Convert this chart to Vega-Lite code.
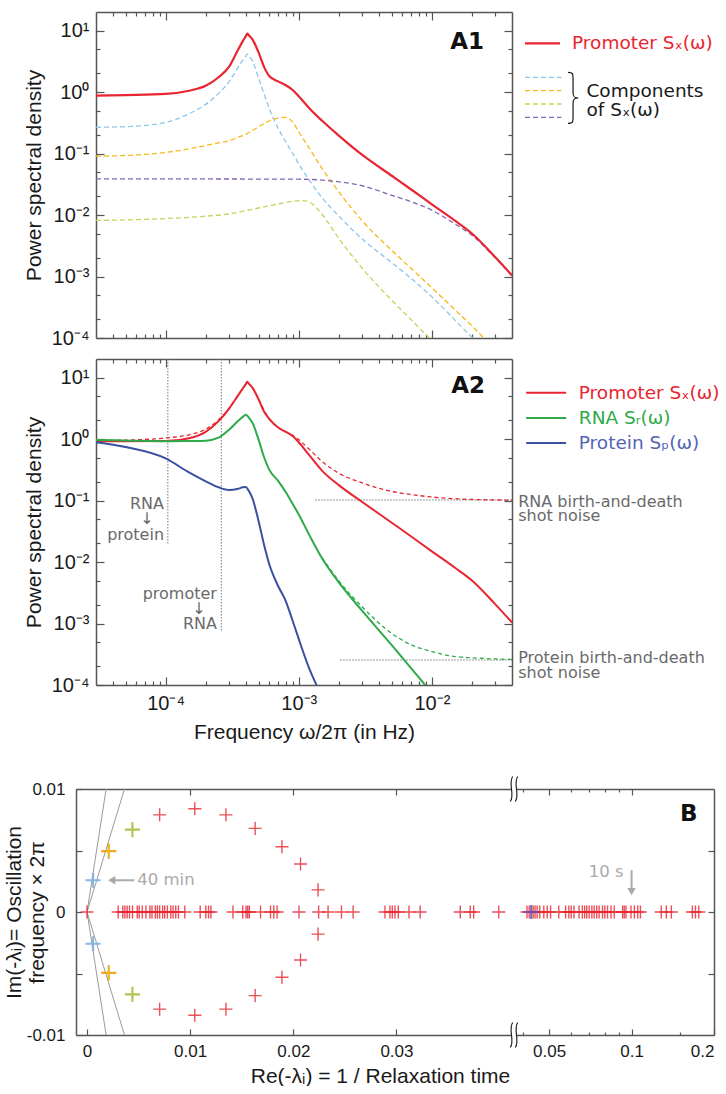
{
"$schema": "https://vega.github.io/schema/vega-lite/v6.json",
"padding": {"left": 3, "top": 11, "right": 0, "bottom": 0},
"config": {
  "view": {"stroke": null},
  "font": "Liberation Sans",
  "axis": {"grid": false, "domainColor": "#555", "tickColor": "#555", "domainWidth": 1.5, "tickWidth": 1.2, "labelFont": "Liberation Sans", "labelFontSize": 20, "labelColor": "#1a1a1a", "titleFont": "Liberation Sans", "titleFontSize": 21, "titleFontWeight": "normal", "titleColor": "#1a1a1a"},
  "text": {"font": "DejaVu Sans"}
},
"datasets": {
  "a1": [
    {"s":"red","f":3e-5,"S":0.871},{"s":"red","f":5e-5,"S":0.891},{"s":"red","f":1e-4,"S":0.93},{"s":"red","f":1.5e-4,"S":1.05},{"s":"red","f":2e-4,"S":1.26},{"s":"red","f":2.5e-4,"S":1.74},{"s":"red","f":3e-4,"S":2.58},{"s":"red","f":3.5e-4,"S":4.86},{"s":"red","f":3.8e-4,"S":6.73},{"s":"red","f":4e-4,"S":8.09},{"s":"red","f":4.1e-4,"S":8.95},{"s":"red","f":4.2e-4,"S":8.43},{"s":"red","f":4.5e-4,"S":7.13},{"s":"red","f":5e-4,"S":4.36},{"s":"red","f":5.5e-4,"S":2.54},{"s":"red","f":6e-4,"S":1.82},{"s":"red","f":7e-4,"S":1.49},{"s":"red","f":8e-4,"S":1.29},{"s":"red","f":9e-4,"S":1.08},{"s":"red","f":1e-3,"S":0.851},{"s":"red","f":1.2e-3,"S":0.546},{"s":"red","f":1.5e-3,"S":0.34},{"s":"red","f":2e-3,"S":0.195},{"s":"red","f":3e-3,"S":0.0946},{"s":"red","f":5e-3,"S":0.0435},{"s":"red","f":7e-3,"S":0.026},{"s":"red","f":1e-2,"S":0.0149},{"s":"red","f":1.5e-2,"S":0.0080},{"s":"red","f":2e-2,"S":0.0050},{"s":"red","f":3e-2,"S":0.00205},{"s":"red","f":4e-2,"S":0.00104},
    {"s":"lblue","f":3e-5,"S":0.267},{"s":"lblue","f":5e-5,"S":0.273},{"s":"lblue","f":1e-4,"S":0.32},{"s":"lblue","f":1.5e-4,"S":0.444},{"s":"lblue","f":2e-4,"S":0.63},{"s":"lblue","f":2.5e-4,"S":0.95},{"s":"lblue","f":3e-4,"S":1.47},{"s":"lblue","f":3.5e-4,"S":2.52},{"s":"lblue","f":3.8e-4,"S":3.29},{"s":"lblue","f":4e-4,"S":3.81},{"s":"lblue","f":4.1e-4,"S":4.14},{"s":"lblue","f":4.2e-4,"S":3.89},{"s":"lblue","f":4.5e-4,"S":3.16},{"s":"lblue","f":5e-4,"S":1.67},{"s":"lblue","f":5.5e-4,"S":0.929},{"s":"lblue","f":6e-4,"S":0.542},{"s":"lblue","f":7e-4,"S":0.258},{"s":"lblue","f":8e-4,"S":0.154},{"s":"lblue","f":9e-4,"S":0.101},{"s":"lblue","f":1e-3,"S":0.0678},{"s":"lblue","f":1.2e-3,"S":0.0368},{"s":"lblue","f":1.5e-3,"S":0.019},{"s":"lblue","f":2e-3,"S":0.00964},{"s":"lblue","f":3e-3,"S":0.00406},{"s":"lblue","f":5e-3,"S":0.00168},{"s":"lblue","f":7e-3,"S":0.000929},{"s":"lblue","f":1e-2,"S":0.000467},{"s":"lblue","f":1.5e-2,"S":0.000193},{"s":"lblue","f":2e-2,"S":0.000103},{"s":"lblue","f":2.2e-2,"S":0.000085},
    {"s":"orange","f":3e-5,"S":0.0904},{"s":"orange","f":5e-5,"S":0.0929},{"s":"orange","f":1e-4,"S":0.104},{"s":"orange","f":1.5e-4,"S":0.119},{"s":"orange","f":2e-4,"S":0.135},{"s":"orange","f":2.5e-4,"S":0.149},{"s":"orange","f":3e-4,"S":0.161},{"s":"orange","f":3.5e-4,"S":0.183},{"s":"orange","f":4e-4,"S":0.205},{"s":"orange","f":4.5e-4,"S":0.237},{"s":"orange","f":5e-4,"S":0.272},{"s":"orange","f":5.5e-4,"S":0.307},{"s":"orange","f":6e-4,"S":0.338},{"s":"orange","f":7e-4,"S":0.375},{"s":"orange","f":7.7e-4,"S":0.388},{"s":"orange","f":8e-4,"S":0.385},{"s":"orange","f":9e-4,"S":0.324},{"s":"orange","f":1e-3,"S":0.225},{"s":"orange","f":1.2e-3,"S":0.122},{"s":"orange","f":1.5e-3,"S":0.0569},{"s":"orange","f":2e-3,"S":0.0238},{"s":"orange","f":3e-3,"S":0.00804},{"s":"orange","f":5e-3,"S":0.00266},{"s":"orange","f":7e-3,"S":0.00135},{"s":"orange","f":1e-2,"S":0.000656},{"s":"orange","f":1.5e-2,"S":0.000284},{"s":"orange","f":2e-2,"S":0.000157},{"s":"orange","f":2.6e-2,"S":0.000088},
    {"s":"yg","f":3e-5,"S":0.00815},{"s":"yg","f":5e-5,"S":0.00832},{"s":"yg","f":1e-4,"S":0.00875},{"s":"yg","f":2e-4,"S":0.00957},{"s":"yg","f":3e-4,"S":0.0104},{"s":"yg","f":4e-4,"S":0.0118},{"s":"yg","f":5e-4,"S":0.013},{"s":"yg","f":6e-4,"S":0.0141},{"s":"yg","f":7e-4,"S":0.0151},{"s":"yg","f":8e-4,"S":0.016},{"s":"yg","f":9e-4,"S":0.0166},{"s":"yg","f":1.05e-3,"S":0.0172},{"s":"yg","f":1.2e-3,"S":0.0162},{"s":"yg","f":1.5e-3,"S":0.0102},{"s":"yg","f":2e-3,"S":0.00417},{"s":"yg","f":3e-3,"S":0.00136},{"s":"yg","f":5e-3,"S":0.000411},{"s":"yg","f":7e-3,"S":0.000197},{"s":"yg","f":1e-2,"S":0.000091},
    {"s":"purple","f":3e-5,"S":0.0387},{"s":"purple","f":1e-4,"S":0.0386},{"s":"purple","f":3e-4,"S":0.0385},{"s":"purple","f":1e-3,"S":0.0382},{"s":"purple","f":1.5e-3,"S":0.037},{"s":"purple","f":2e-3,"S":0.0347},{"s":"purple","f":3e-3,"S":0.0299},{"s":"purple","f":5e-3,"S":0.0209},{"s":"purple","f":7e-3,"S":0.0164},{"s":"purple","f":1e-2,"S":0.012},{"s":"purple","f":1.5e-2,"S":0.0071},{"s":"purple","f":2e-2,"S":0.0047},{"s":"purple","f":3e-2,"S":0.002},{"s":"purple","f":4e-2,"S":0.00104}
  ],
  "a1leg": [
    {"s":"red","f1":0.0501,"f2":0.0918,"S":6.2},
    {"s":"lblue","f1":0.0501,"f2":0.094,"S":1.73},
    {"s":"orange","f1":0.0501,"f2":0.094,"S":1.05},
    {"s":"yg","f1":0.0501,"f2":0.094,"S":0.638},
    {"s":"purple","f1":0.0501,"f2":0.094,"S":0.388}
  ],
  "a1txt": [
    {"t":"Promoter Sₓ(ω)","s":"red","f":0.113,"S":6.2},
    {"t":"Components","s":"txt","f":0.145,"S":1.05},
    {"t":"of Sₓ(ω)","s":"txt","f":0.145,"S":0.51}
  ],
  "a2": [
    {"s":"red","f":3e-5,"S":0.92},{"s":"red","f":5e-5,"S":0.92},{"s":"red","f":1e-4,"S":0.925},{"s":"red","f":1.5e-4,"S":1.03},{"s":"red","f":2e-4,"S":1.31},{"s":"red","f":2.5e-4,"S":1.95},{"s":"red","f":3e-4,"S":3.13},{"s":"red","f":3.5e-4,"S":5.12},{"s":"red","f":3.8e-4,"S":6.65},{"s":"red","f":4e-4,"S":7.8},{"s":"red","f":4.1e-4,"S":8.51},{"s":"red","f":4.2e-4,"S":8.04},{"s":"red","f":4.5e-4,"S":6.78},{"s":"red","f":5e-4,"S":4.39},{"s":"red","f":5.5e-4,"S":2.77},{"s":"red","f":6e-4,"S":2.12},{"s":"red","f":7e-4,"S":1.54},{"s":"red","f":8e-4,"S":1.3},{"s":"red","f":9e-4,"S":1.12},{"s":"red","f":1e-3,"S":0.887},{"s":"red","f":1.2e-3,"S":0.546},{"s":"red","f":1.5e-3,"S":0.304},{"s":"red","f":2e-3,"S":0.178},{"s":"red","f":3e-3,"S":0.0946},{"s":"red","f":5e-3,"S":0.0435},{"s":"red","f":7e-3,"S":0.026},{"s":"red","f":1e-2,"S":0.0149},{"s":"red","f":1.5e-2,"S":0.0080},{"s":"red","f":2e-2,"S":0.0050},{"s":"red","f":3e-2,"S":0.00205},{"s":"red","f":4e-2,"S":0.00104},
    {"s":"green","f":3e-5,"S":0.968},{"s":"green","f":5e-5,"S":0.95},{"s":"green","f":1e-4,"S":0.92},{"s":"green","f":1.5e-4,"S":0.93},{"s":"green","f":2e-4,"S":0.94},{"s":"green","f":2.5e-4,"S":1.05},{"s":"green","f":3e-4,"S":1.42},{"s":"green","f":3.5e-4,"S":1.97},{"s":"green","f":3.8e-4,"S":2.29},{"s":"green","f":4e-4,"S":2.49},{"s":"green","f":4.2e-4,"S":2.25},{"s":"green","f":4.5e-4,"S":1.82},{"s":"green","f":5e-4,"S":0.968},{"s":"green","f":5.5e-4,"S":0.5},{"s":"green","f":6e-4,"S":0.318},{"s":"green","f":7e-4,"S":0.208},{"s":"green","f":8e-4,"S":0.136},{"s":"green","f":9e-4,"S":0.0883},{"s":"green","f":1e-3,"S":0.0593},{"s":"green","f":1.2e-3,"S":0.0276},{"s":"green","f":1.5e-3,"S":0.0114},{"s":"green","f":2e-3,"S":0.00468},{"s":"green","f":3e-3,"S":0.0016},{"s":"green","f":5e-3,"S":0.000444},{"s":"green","f":7e-3,"S":0.000187},{"s":"green","f":1e-2,"S":0.000074},
    {"s":"dblue","f":3e-5,"S":0.887},{"s":"dblue","f":5e-5,"S":0.74},{"s":"dblue","f":1e-4,"S":0.483},{"s":"dblue","f":1.5e-4,"S":0.286},{"s":"dblue","f":2e-4,"S":0.205},{"s":"dblue","f":2.5e-4,"S":0.164},{"s":"dblue","f":3e-4,"S":0.148},{"s":"dblue","f":3.5e-4,"S":0.155},{"s":"dblue","f":3.8e-4,"S":0.164},{"s":"dblue","f":4e-4,"S":0.166},{"s":"dblue","f":4.2e-4,"S":0.145},{"s":"dblue","f":4.5e-4,"S":0.107},{"s":"dblue","f":5e-4,"S":0.0457},{"s":"dblue","f":5.5e-4,"S":0.0187},{"s":"dblue","f":6e-4,"S":0.00927},{"s":"dblue","f":7e-4,"S":0.00407},{"s":"dblue","f":8e-4,"S":0.0023},{"s":"dblue","f":9e-4,"S":0.00111},{"s":"dblue","f":1e-3,"S":0.000561},{"s":"dblue","f":1.2e-3,"S":0.000185},{"s":"dblue","f":1.35e-3,"S":0.000103},{"s":"dblue","f":1.45e-3,"S":0.000072}
  ],
  "a2d": [
    {"s":"red","f":3e-5,"S":0.944},{"s":"red","f":5e-5,"S":0.96},{"s":"red","f":1e-4,"S":1.04},{"s":"red","f":1.5e-4,"S":1.17},{"s":"red","f":2e-4,"S":1.44},{"s":"red","f":2.5e-4,"S":2.06},{"s":"red","f":3e-4,"S":3.18},{"s":"red","f":3.5e-4,"S":5.12},{"s":"red","f":4e-4,"S":7.8},{"s":"red","f":4.1e-4,"S":8.51},{"s":"red","f":4.2e-4,"S":8.04},{"s":"red","f":4.5e-4,"S":6.78},{"s":"red","f":5e-4,"S":4.39},{"s":"red","f":6e-4,"S":2.12},{"s":"red","f":7e-4,"S":1.55},{"s":"red","f":8e-4,"S":1.32},{"s":"red","f":9e-4,"S":1.15},{"s":"red","f":1e-3,"S":0.98},{"s":"red","f":1.2e-3,"S":0.68},{"s":"red","f":1.5e-3,"S":0.43},{"s":"red","f":2e-3,"S":0.278},{"s":"red","f":3e-3,"S":0.193},{"s":"red","f":5e-3,"S":0.14},{"s":"red","f":7e-3,"S":0.125},{"s":"red","f":1e-2,"S":0.114},{"s":"red","f":1.5e-2,"S":0.107},{"s":"red","f":2e-2,"S":0.104},{"s":"red","f":3e-2,"S":0.102},{"s":"red","f":4e-2,"S":0.101},
    {"s":"green","f":1.5e-3,"S":0.0117},{"s":"green","f":2e-3,"S":0.00494},{"s":"green","f":3e-3,"S":0.00186},{"s":"green","f":5e-3,"S":0.00069},{"s":"green","f":7e-3,"S":0.00045},{"s":"green","f":1e-2,"S":0.00035},{"s":"green","f":1.5e-2,"S":0.00029},{"s":"green","f":2e-2,"S":0.000277},{"s":"green","f":3e-2,"S":0.000265},{"s":"green","f":4e-2,"S":0.00026}
  ],
  "a2leg": [
    {"s":"red","f1":0.0511,"f2":0.102,"S":5.66},
    {"s":"green","f1":0.0511,"f2":0.102,"S":2.2},
    {"s":"dblue","f1":0.0511,"f2":0.102,"S":0.861}
  ],
  "a2txt": [
    {"t":"Promoter Sₓ(ω)","s":"red","f":0.127,"S":5.66},
    {"t":"RNA Sᵣ(ω)","s":"green","f":0.127,"S":2.2},
    {"t":"Protein Sₚ(ω)","s":"ptxt","f":0.127,"S":0.861}
  ],
  "a2vr": [
    {"f":1.04e-4,"S1":20,"S2":0.0199},
    {"f":2.62e-4,"S1":20,"S2":0.00073}
  ],
  "a2hr": [
    {"f1":0.00133,"f2":0.04,"S":0.102},
    {"f1":0.00205,"f2":0.04,"S":0.000255}
  ],
  "a2ann": [
    {"t":"RNA","k":"r","f":9.73e-5,"S":0.0887},
    {"t":"protein","k":"r","f":9.73e-5,"S":0.0278},
    {"t":"promoter","k":"r","f":2.43e-4,"S":0.00305},
    {"t":"RNA","k":"r","f":2.43e-4,"S":0.000993},
    {"t":"↓","k":"c","f":7.25e-5,"S":0.0506},
    {"t":"↓","k":"c","f":1.78e-4,"S":0.00174},
    {"t":"RNA birth-and-death","k":"l","f":0.0445,"S":0.0946},
    {"t":"shot noise","k":"l","f":0.0445,"S":0.056},
    {"t":"Protein birth-and-death","k":"l","f":0.0445,"S":0.000275},
    {"t":"shot noise","k":"l","f":0.0445,"S":0.000157}
  ],
  "b": [
    {"re":0.00058,"im":0.00258,"c":"bblue"},{"re":0.00058,"im":-0.00258,"c":"bblue"},
    {"re":0.0021,"im":0.00495,"c":"borange"},{"re":0.0021,"im":-0.00495,"c":"borange"},
    {"re":0.0044,"im":0.0067,"c":"bgreen"},{"re":0.0044,"im":-0.0067,"c":"bgreen"},
    {"re":0.00704,"im":0.0079,"c":"red"},{"re":0.00704,"im":-0.0079,"c":"red"},
    {"re":0.01045,"im":0.0084,"c":"red"},{"re":0.01045,"im":-0.0084,"c":"red"},
    {"re":0.01347,"im":0.0079,"c":"red"},{"re":0.01347,"im":-0.0079,"c":"red"},
    {"re":0.0163,"im":0.0068,"c":"red"},{"re":0.0163,"im":-0.0068,"c":"red"},
    {"re":0.0189,"im":0.0053,"c":"red"},{"re":0.0189,"im":-0.0053,"c":"red"},
    {"re":0.0207,"im":0.0039,"c":"red"},{"re":0.0207,"im":-0.0039,"c":"red"},
    {"re":0.0224,"im":0.0018,"c":"red"},{"re":0.0224,"im":-0.0018,"c":"red"},
    {"re":0,"im":0,"c":"red"},{"re":0.00302,"im":0,"c":"red"},{"re":0.00347,"im":0,"c":"red"},{"re":0.00367,"im":0,"c":"red"},{"re":0.00389,"im":0,"c":"red"},{"re":0.00412,"im":0,"c":"red"},{"re":0.00441,"im":0,"c":"red"},{"re":0.00487,"im":0,"c":"red"},{"re":0.00506,"im":0,"c":"red"},{"re":0.00536,"im":0,"c":"red"},{"re":0.00571,"im":0,"c":"red"},{"re":0.0061,"im":0,"c":"red"},{"re":0.0063,"im":0,"c":"red"},{"re":0.00662,"im":0,"c":"red"},{"re":0.00682,"im":0,"c":"red"},{"re":0.00704,"im":0,"c":"red"},{"re":0.00733,"im":0,"c":"red"},{"re":0.00753,"im":0,"c":"red"},{"re":0.00779,"im":0,"c":"red"},{"re":0.00812,"im":0,"c":"red"},{"re":0.00834,"im":0,"c":"red"},{"re":0.0086,"im":0,"c":"red"},{"re":0.00886,"im":0,"c":"red"},{"re":0.00948,"im":0,"c":"red"},{"re":0.01097,"im":0,"c":"red"},{"re":0.01152,"im":0,"c":"red"},{"re":0.01178,"im":0,"c":"red"},{"re":0.01201,"im":0,"c":"red"},{"re":0.01415,"im":0,"c":"red"},{"re":0.01509,"im":0,"c":"red"},{"re":0.01542,"im":0,"c":"red"},{"re":0.01558,"im":0,"c":"red"},{"re":0.01574,"im":0,"c":"red"},{"re":0.01682,"im":0,"c":"red"},{"re":0.01779,"im":0,"c":"red"},{"re":0.01811,"im":0,"c":"red"},{"re":0.01843,"im":0,"c":"red"},{"re":0.02055,"im":0,"c":"red"},{"re":0.02246,"im":0,"c":"red"},{"re":0.02337,"im":0,"c":"red"},{"re":0.02467,"im":0,"c":"red"},{"re":0.0258,"im":0,"c":"red"},{"re":0.02889,"im":0,"c":"red"},{"re":0.02937,"im":0,"c":"red"},{"re":0.0296,"im":0,"c":"red"},{"re":0.02986,"im":0,"c":"red"},{"re":0.03018,"im":0,"c":"red"},{"re":0.03122,"im":0,"c":"red"},{"re":0.0323,"im":0,"c":"red"},{"re":0.03619,"im":0,"c":"red"},{"re":0.03716,"im":0,"c":"red"},{"re":0.03749,"im":0,"c":"red"},{"re":0.03992,"im":0,"c":"red"},
    {"re":0.0415,"im":0,"c":"red"},{"re":0.0423,"im":0,"c":"red"},{"re":0.0437,"im":0,"c":"red"},{"re":0.0444,"im":0,"c":"red"},{"re":0.0452,"im":0,"c":"red"},{"re":0.0462,"im":0,"c":"red"},{"re":0.0478,"im":0,"c":"red"},{"re":0.0492,"im":0,"c":"red"},{"re":0.0506,"im":0,"c":"red"},{"re":0.0542,"im":0,"c":"red"},{"re":0.0574,"im":0,"c":"red"},{"re":0.059,"im":0,"c":"red"},{"re":0.0602,"im":0,"c":"red"},{"re":0.0616,"im":0,"c":"red"},{"re":0.0643,"im":0,"c":"red"},{"re":0.0661,"im":0,"c":"red"},{"re":0.0674,"im":0,"c":"red"},{"re":0.0686,"im":0,"c":"red"},{"re":0.07,"im":0,"c":"red"},{"re":0.0716,"im":0,"c":"red"},{"re":0.073,"im":0,"c":"red"},{"re":0.0746,"im":0,"c":"red"},{"re":0.0761,"im":0,"c":"red"},{"re":0.0783,"im":0,"c":"red"},{"re":0.0798,"im":0,"c":"red"},{"re":0.0817,"im":0,"c":"red"},{"re":0.0841,"im":0,"c":"red"},{"re":0.0865,"im":0,"c":"red"},{"re":0.0927,"im":0,"c":"red"},{"re":0.094,"im":0,"c":"red"},{"re":0.0954,"im":0,"c":"red"},{"re":0.0995,"im":0,"c":"red"},{"re":0.1024,"im":0,"c":"red"},{"re":0.1053,"im":0,"c":"red"},{"re":0.1077,"im":0,"c":"red"},{"re":0.1283,"im":0,"c":"red"},{"re":0.1339,"im":0,"c":"red"},{"re":0.1397,"im":0,"c":"red"},{"re":0.1668,"im":0,"c":"red"},{"re":0.1711,"im":0,"c":"red"},{"re":0.176,"im":0,"c":"red"},
    {"re":0.043,"im":0,"c":"bpurple"}
  ],
  "blines": [
    {"g":1,"re":0,"im":0},{"g":1,"re":0.00185,"im":0.01},
    {"g":2,"re":0,"im":0},{"g":2,"re":0.00185,"im":-0.01},
    {"g":3,"re":0,"im":0},{"g":3,"re":0.00363,"im":0.01},
    {"g":4,"re":0,"im":0},{"g":4,"re":0.00363,"im":-0.01}
  ]
},
"vconcat": [
 {"vconcat": [
  {
   "width": 436, "height": 326,
   "resolve": {"axis": {"x": "independent", "y": "independent"}},
   "layer": [
    {"data": {"values": [{"f": 0.001, "S": 1}]}, "mark": {"type": "point", "opacity": 0},
     "encoding": {
      "x": {"field": "f", "type": "quantitative", "scale": {"type":"log","domain":[0.00003,0.04],"range":[20,436],"nice":false}, "axis": {"orient": "bottom", "values": [0.0001,0.001,0.01], "labels": false, "tickSize": -8, "title": null}},
      "y": {"field": "S", "type": "quantitative", "scale": {"type":"log","domain":[0.0001,20],"nice":false}, "axis": {"orient": "left", "offset": -20, "values": [0.0001,0.001,0.01,0.1,1,10], "tickSize": -8, "labelPadding": 15, "labelExpr": "'10' + (datum.value < 0.5 ? '⁻' : '') + ['⁰','¹','²','³','⁴','⁵'][round(abs(log(datum.value)/LN10))]", "title": "Power spectral density", "titlePadding": 7}}
     }},
    {"data": {"values": [{"f": 0.001, "S": 1}]}, "mark": {"type": "point", "opacity": 0},
     "encoding": {
      "x": {"field": "f", "type": "quantitative", "scale": {"type":"log","domain":[0.00003,0.04],"range":[20,436],"nice":false}, "axis": {"orient": "bottom", "values": [4e-5,5e-5,6e-5,7e-5,8e-5,9e-5,2e-4,3e-4,4e-4,5e-4,6e-4,7e-4,8e-4,9e-4,2e-3,3e-3,4e-3,5e-3,6e-3,7e-3,8e-3,9e-3,2e-2,3e-2], "labels": false, "domain": false, "tickSize": -4, "title": null}},
      "y": {"field": "S", "type": "quantitative", "scale": {"type":"log","domain":[0.0001,20],"nice":false}, "axis": {"orient": "left", "offset": -20, "values": [2e-4,5e-4,2e-3,5e-3,2e-2,5e-2,0.2,0.5,2,5], "labels": false, "domain": false, "tickSize": -4, "title": null}}
     }},
    {"data": {"values": [{"f": 0.001, "S": 1}]}, "mark": {"type": "point", "opacity": 0},
     "encoding": {
      "x": {"field": "f", "type": "quantitative", "scale": {"type":"log","domain":[0.00003,0.04],"range":[20,436],"nice":false}, "axis": {"orient": "top", "values": [0.0001,0.001,0.01], "labels": false, "tickSize": -8, "title": null}},
      "y": {"field": "S", "type": "quantitative", "scale": {"type":"log","domain":[0.0001,20],"nice":false}, "axis": {"orient": "right", "values": [0.0001,0.001,0.01,0.1,1,10], "labels": false, "tickSize": -8, "title": null}}
     }},
    {"data": {"values": [{"f": 0.001, "S": 1}]}, "mark": {"type": "point", "opacity": 0},
     "encoding": {
      "x": {"field": "f", "type": "quantitative", "scale": {"type":"log","domain":[0.00003,0.04],"range":[20,436],"nice":false}, "axis": {"orient": "top", "values": [4e-5,5e-5,6e-5,7e-5,8e-5,9e-5,2e-4,3e-4,4e-4,5e-4,6e-4,7e-4,8e-4,9e-4,2e-3,3e-3,4e-3,5e-3,6e-3,7e-3,8e-3,9e-3,2e-2,3e-2], "labels": false, "domain": false, "tickSize": -4, "title": null}},
      "y": {"field": "S", "type": "quantitative", "scale": {"type":"log","domain":[0.0001,20],"nice":false}, "axis": {"orient": "right", "values": [2e-4,5e-4,2e-3,5e-3,2e-2,5e-2,0.2,0.5,2,5], "labels": false, "domain": false, "tickSize": -4, "title": null}}
     }},
    {"data": {"name": "a1"}, "transform": [{"filter": "datum.s != 'red'"}],
     "mark": {"type": "line", "strokeDash": [5,3], "strokeWidth": 1.3, "clip": true, "interpolate": "monotone"},
     "encoding": {
      "x": {"field": "f", "type": "quantitative", "scale": {"type":"log","domain":[0.00003,0.04],"range":[20,436],"nice":false}, "axis": null},
      "y": {"field": "S", "type": "quantitative", "scale": {"type":"log","domain":[0.0001,20],"nice":false}, "axis": null},
      "color": {"field": "s", "type": "nominal", "legend": null, "scale": {"domain": ["red","lblue","orange","yg","purple","txt","green","dblue","ptxt","bblue","borange","bgreen","bpurple"], "range": ["#e82530","#8ec5ea","#f8b718","#c5d35a","#8466b0","#1a1a1a","#2eaa48","#3a50a0","#5563b5","#7fb0e0","#f0a400","#a8c040","#6f4fb0"]}}
     }},
    {"data": {"name": "a1"}, "transform": [{"filter": "datum.s == 'red'"}],
     "mark": {"type": "line", "strokeWidth": 2.2, "clip": true, "interpolate": "monotone"},
     "encoding": {
      "x": {"field": "f", "type": "quantitative", "scale": {"type":"log","domain":[0.00003,0.04],"range":[20,436],"nice":false}, "axis": null},
      "y": {"field": "S", "type": "quantitative", "scale": {"type":"log","domain":[0.0001,20],"nice":false}, "axis": null},
      "color": {"field": "s", "type": "nominal", "legend": null, "scale": {"domain": ["red","lblue","orange","yg","purple","txt","green","dblue","ptxt","bblue","borange","bgreen","bpurple"], "range": ["#e82530","#8ec5ea","#f8b718","#c5d35a","#8466b0","#1a1a1a","#2eaa48","#3a50a0","#5563b5","#7fb0e0","#f0a400","#a8c040","#6f4fb0"]}}
     }},
    {"data": {"name": "a1leg"}, "transform": [{"filter": "datum.s != 'red'"}],
     "mark": {"type": "rule", "strokeDash": [5,3], "strokeWidth": 1.3},
     "encoding": {
      "x": {"field": "f1", "type": "quantitative", "scale": {"type":"log","domain":[0.00003,0.04],"range":[20,436],"nice":false}, "axis": null},
      "x2": {"field": "f2"},
      "y": {"field": "S", "type": "quantitative", "scale": {"type":"log","domain":[0.0001,20],"nice":false}, "axis": null},
      "color": {"field": "s", "type": "nominal", "legend": null, "scale": {"domain": ["red","lblue","orange","yg","purple","txt","green","dblue","ptxt","bblue","borange","bgreen","bpurple"], "range": ["#e82530","#8ec5ea","#f8b718","#c5d35a","#8466b0","#1a1a1a","#2eaa48","#3a50a0","#5563b5","#7fb0e0","#f0a400","#a8c040","#6f4fb0"]}}
     }},
    {"data": {"name": "a1leg"}, "transform": [{"filter": "datum.s == 'red'"}],
     "mark": {"type": "rule", "strokeWidth": 2.2},
     "encoding": {
      "x": {"field": "f1", "type": "quantitative", "scale": {"type":"log","domain":[0.00003,0.04],"range":[20,436],"nice":false}, "axis": null},
      "x2": {"field": "f2"},
      "y": {"field": "S", "type": "quantitative", "scale": {"type":"log","domain":[0.0001,20],"nice":false}, "axis": null},
      "color": {"field": "s", "type": "nominal", "legend": null, "scale": {"domain": ["red","lblue","orange","yg","purple","txt","green","dblue","ptxt","bblue","borange","bgreen","bpurple"], "range": ["#e82530","#8ec5ea","#f8b718","#c5d35a","#8466b0","#1a1a1a","#2eaa48","#3a50a0","#5563b5","#7fb0e0","#f0a400","#a8c040","#6f4fb0"]}}
     }},
    {"data": {"name": "a1txt"},
     "mark": {"type": "text", "align": "left", "baseline": "middle", "fontSize": 18.5},
     "encoding": {
      "x": {"field": "f", "type": "quantitative", "scale": {"type":"log","domain":[0.00003,0.04],"range":[20,436],"nice":false}, "axis": null},
      "y": {"field": "S", "type": "quantitative", "scale": {"type":"log","domain":[0.0001,20],"nice":false}, "axis": null},
      "text": {"field": "t"},
      "color": {"field": "s", "type": "nominal", "legend": null, "scale": {"domain": ["red","lblue","orange","yg","purple","txt","green","dblue","ptxt","bblue","borange","bgreen","bpurple"], "range": ["#e82530","#8ec5ea","#f8b718","#c5d35a","#8466b0","#1a1a1a","#2eaa48","#3a50a0","#5563b5","#7fb0e0","#f0a400","#a8c040","#6f4fb0"]}}
     }},
    {"data": {"values": [{"f": 0.115, "S": 0.8}]},
     "mark": {"type": "point", "shape": "M-0.2,-1C0,-1,0,-0.95,0,-0.7V-0.2C0,-0.05,0.05,0,0.2,0C0.05,0,0,0.05,0,0.2V0.7C0,0.95,0,1,-0.2,1", "filled": false, "size": 2600, "stroke": "#1a1a1a", "strokeWidth": 1.2, "opacity": 1},
     "encoding": {
      "x": {"field": "f", "type": "quantitative", "scale": {"type":"log","domain":[0.00003,0.04],"range":[20,436],"nice":false}, "axis": null},
      "y": {"field": "S", "type": "quantitative", "scale": {"type":"log","domain":[0.0001,20],"nice":false}, "axis": null}
     }},
    {"data": {"values": [{"t": "A1", "f": 0.0247, "S": 6.5}]},
     "mark": {"type": "text", "align": "right", "baseline": "middle", "fontSize": 23, "fontWeight": "bold", "color": "#111"},
     "encoding": {
      "x": {"field": "f", "type": "quantitative", "scale": {"type":"log","domain":[0.00003,0.04],"range":[20,436],"nice":false}, "axis": null},
      "y": {"field": "S", "type": "quantitative", "scale": {"type":"log","domain":[0.0001,20],"nice":false}, "axis": null},
      "text": {"field": "t"}
     }}
   ]
  },
  {
   "width": 436, "height": 326,
   "resolve": {"axis": {"x": "independent", "y": "independent"}},
   "layer": [
    {"data": {"values": [{"f": 0.001, "S": 1}]}, "mark": {"type": "point", "opacity": 0},
     "encoding": {
      "x": {"field": "f", "type": "quantitative", "scale": {"type":"log","domain":[0.00003,0.04],"range":[20,436],"nice":false}, "axis": {"orient": "bottom", "values": [0.0001,0.001,0.01], "tickSize": -8, "labelPadding": 16, "labelExpr": "'10' + (datum.value < 0.5 ? '⁻' : '') + ['⁰','¹','²','³','⁴','⁵'][round(abs(log(datum.value)/LN10))]", "title": "Frequency ω/2π (in Hz)", "titlePadding": 8}},
      "y": {"field": "S", "type": "quantitative", "scale": {"type":"log","domain":[0.0001,20],"nice":false}, "axis": {"orient": "left", "offset": -20, "values": [0.0001,0.001,0.01,0.1,1,10], "tickSize": -8, "labelPadding": 15, "labelExpr": "'10' + (datum.value < 0.5 ? '⁻' : '') + ['⁰','¹','²','³','⁴','⁵'][round(abs(log(datum.value)/LN10))]", "title": "Power spectral density", "titlePadding": 7}}
     }},
    {"data": {"values": [{"f": 0.001, "S": 1}]}, "mark": {"type": "point", "opacity": 0},
     "encoding": {
      "x": {"field": "f", "type": "quantitative", "scale": {"type":"log","domain":[0.00003,0.04],"range":[20,436],"nice":false}, "axis": {"orient": "bottom", "values": [4e-5,5e-5,6e-5,7e-5,8e-5,9e-5,2e-4,3e-4,4e-4,5e-4,6e-4,7e-4,8e-4,9e-4,2e-3,3e-3,4e-3,5e-3,6e-3,7e-3,8e-3,9e-3,2e-2,3e-2], "labels": false, "domain": false, "tickSize": -4, "title": null}},
      "y": {"field": "S", "type": "quantitative", "scale": {"type":"log","domain":[0.0001,20],"nice":false}, "axis": {"orient": "left", "offset": -20, "values": [2e-4,5e-4,2e-3,5e-3,2e-2,5e-2,0.2,0.5,2,5], "labels": false, "domain": false, "tickSize": -4, "title": null}}
     }},
    {"data": {"values": [{"f": 0.001, "S": 1}]}, "mark": {"type": "point", "opacity": 0},
     "encoding": {
      "x": {"field": "f", "type": "quantitative", "scale": {"type":"log","domain":[0.00003,0.04],"range":[20,436],"nice":false}, "axis": {"orient": "top", "values": [0.0001,0.001,0.01], "labels": false, "tickSize": -8, "title": null}},
      "y": {"field": "S", "type": "quantitative", "scale": {"type":"log","domain":[0.0001,20],"nice":false}, "axis": {"orient": "right", "values": [0.0001,0.001,0.01,0.1,1,10], "labels": false, "tickSize": -8, "title": null}}
     }},
    {"data": {"values": [{"f": 0.001, "S": 1}]}, "mark": {"type": "point", "opacity": 0},
     "encoding": {
      "x": {"field": "f", "type": "quantitative", "scale": {"type":"log","domain":[0.00003,0.04],"range":[20,436],"nice":false}, "axis": {"orient": "top", "values": [4e-5,5e-5,6e-5,7e-5,8e-5,9e-5,2e-4,3e-4,4e-4,5e-4,6e-4,7e-4,8e-4,9e-4,2e-3,3e-3,4e-3,5e-3,6e-3,7e-3,8e-3,9e-3,2e-2,3e-2], "labels": false, "domain": false, "tickSize": -4, "title": null}},
      "y": {"field": "S", "type": "quantitative", "scale": {"type":"log","domain":[0.0001,20],"nice":false}, "axis": {"orient": "right", "values": [2e-4,5e-4,2e-3,5e-3,2e-2,5e-2,0.2,0.5,2,5], "labels": false, "domain": false, "tickSize": -4, "title": null}}
     }},
    {"data": {"name": "a2vr"},
     "mark": {"type": "rule", "strokeDash": [1.5,1.5], "strokeWidth": 1, "color": "#777"},
     "encoding": {
      "x": {"field": "f", "type": "quantitative", "scale": {"type":"log","domain":[0.00003,0.04],"range":[20,436],"nice":false}, "axis": null},
      "y": {"field": "S1", "type": "quantitative", "scale": {"type":"log","domain":[0.0001,20],"nice":false}, "axis": null},
      "y2": {"field": "S2"}
     }},
    {"data": {"name": "a2hr"},
     "mark": {"type": "rule", "strokeDash": [1.5,1.5], "strokeWidth": 1, "color": "#777"},
     "encoding": {
      "x": {"field": "f1", "type": "quantitative", "scale": {"type":"log","domain":[0.00003,0.04],"range":[20,436],"nice":false}, "axis": null},
      "x2": {"field": "f2"},
      "y": {"field": "S", "type": "quantitative", "scale": {"type":"log","domain":[0.0001,20],"nice":false}, "axis": null}
     }},
    {"data": {"name": "a2d"},
     "mark": {"type": "line", "strokeDash": [4,3], "strokeWidth": 1.3, "clip": true, "interpolate": "monotone"},
     "encoding": {
      "x": {"field": "f", "type": "quantitative", "scale": {"type":"log","domain":[0.00003,0.04],"range":[20,436],"nice":false}, "axis": null},
      "y": {"field": "S", "type": "quantitative", "scale": {"type":"log","domain":[0.0001,20],"nice":false}, "axis": null},
      "color": {"field": "s", "type": "nominal", "legend": null, "scale": {"domain": ["red","lblue","orange","yg","purple","txt","green","dblue","ptxt","bblue","borange","bgreen","bpurple"], "range": ["#e82530","#8ec5ea","#f8b718","#c5d35a","#8466b0","#1a1a1a","#2eaa48","#3a50a0","#5563b5","#7fb0e0","#f0a400","#a8c040","#6f4fb0"]}}
     }},
    {"data": {"name": "a2"},
     "mark": {"type": "line", "strokeWidth": 2, "clip": true, "interpolate": "monotone"},
     "encoding": {
      "x": {"field": "f", "type": "quantitative", "scale": {"type":"log","domain":[0.00003,0.04],"range":[20,436],"nice":false}, "axis": null},
      "y": {"field": "S", "type": "quantitative", "scale": {"type":"log","domain":[0.0001,20],"nice":false}, "axis": null},
      "color": {"field": "s", "type": "nominal", "legend": null, "scale": {"domain": ["red","lblue","orange","yg","purple","txt","green","dblue","ptxt","bblue","borange","bgreen","bpurple"], "range": ["#e82530","#8ec5ea","#f8b718","#c5d35a","#8466b0","#1a1a1a","#2eaa48","#3a50a0","#5563b5","#7fb0e0","#f0a400","#a8c040","#6f4fb0"]}}
     }},
    {"data": {"name": "a2leg"},
     "mark": {"type": "rule", "strokeWidth": 2},
     "encoding": {
      "x": {"field": "f1", "type": "quantitative", "scale": {"type":"log","domain":[0.00003,0.04],"range":[20,436],"nice":false}, "axis": null},
      "x2": {"field": "f2"},
      "y": {"field": "S", "type": "quantitative", "scale": {"type":"log","domain":[0.0001,20],"nice":false}, "axis": null},
      "color": {"field": "s", "type": "nominal", "legend": null, "scale": {"domain": ["red","lblue","orange","yg","purple","txt","green","dblue","ptxt","bblue","borange","bgreen","bpurple"], "range": ["#e82530","#8ec5ea","#f8b718","#c5d35a","#8466b0","#1a1a1a","#2eaa48","#3a50a0","#5563b5","#7fb0e0","#f0a400","#a8c040","#6f4fb0"]}}
     }},
    {"data": {"name": "a2txt"},
     "mark": {"type": "text", "align": "left", "baseline": "middle", "fontSize": 18.5},
     "encoding": {
      "x": {"field": "f", "type": "quantitative", "scale": {"type":"log","domain":[0.00003,0.04],"range":[20,436],"nice":false}, "axis": null},
      "y": {"field": "S", "type": "quantitative", "scale": {"type":"log","domain":[0.0001,20],"nice":false}, "axis": null},
      "text": {"field": "t"},
      "color": {"field": "s", "type": "nominal", "legend": null, "scale": {"domain": ["red","lblue","orange","yg","purple","txt","green","dblue","ptxt","bblue","borange","bgreen","bpurple"], "range": ["#e82530","#8ec5ea","#f8b718","#c5d35a","#8466b0","#1a1a1a","#2eaa48","#3a50a0","#5563b5","#7fb0e0","#f0a400","#a8c040","#6f4fb0"]}}
     }},
    {"data": {"name": "a2ann"}, "transform": [{"filter": "datum.k == 'r'"}],
     "mark": {"type": "text", "align": "right", "baseline": "middle", "fontSize": 16, "color": "#6a6a6a"},
     "encoding": {
      "x": {"field": "f", "type": "quantitative", "scale": {"type":"log","domain":[0.00003,0.04],"range":[20,436],"nice":false}, "axis": null},
      "y": {"field": "S", "type": "quantitative", "scale": {"type":"log","domain":[0.0001,20],"nice":false}, "axis": null},
      "text": {"field": "t"}
     }},
    {"data": {"name": "a2ann"}, "transform": [{"filter": "datum.k == 'c'"}],
     "mark": {"type": "text", "align": "center", "baseline": "middle", "fontSize": 16, "color": "#6a6a6a"},
     "encoding": {
      "x": {"field": "f", "type": "quantitative", "scale": {"type":"log","domain":[0.00003,0.04],"range":[20,436],"nice":false}, "axis": null},
      "y": {"field": "S", "type": "quantitative", "scale": {"type":"log","domain":[0.0001,20],"nice":false}, "axis": null},
      "text": {"field": "t"}
     }},
    {"data": {"name": "a2ann"}, "transform": [{"filter": "datum.k == 'l'"}],
     "mark": {"type": "text", "align": "left", "baseline": "middle", "fontSize": 16, "color": "#6a6a6a"},
     "encoding": {
      "x": {"field": "f", "type": "quantitative", "scale": {"type":"log","domain":[0.00003,0.04],"range":[20,436],"nice":false}, "axis": null},
      "y": {"field": "S", "type": "quantitative", "scale": {"type":"log","domain":[0.0001,20],"nice":false}, "axis": null},
      "text": {"field": "t"}
     }},
    {"data": {"values": [{"t": "A2", "f": 0.0251, "S": 7.28}]},
     "mark": {"type": "text", "align": "right", "baseline": "middle", "fontSize": 23, "fontWeight": "bold", "color": "#111"},
     "encoding": {
      "x": {"field": "f", "type": "quantitative", "scale": {"type":"log","domain":[0.00003,0.04],"range":[20,436],"nice":false}, "axis": null},
      "y": {"field": "S", "type": "quantitative", "scale": {"type":"log","domain":[0.0001,20],"nice":false}, "axis": null},
      "text": {"field": "t"}
     }}
   ]
  }
 ], "spacing": 10},
 {"hconcat": [
  {
   "width": 438, "height": 246,
   "resolve": {"axis": {"x": "independent", "y": "independent"}},
   "layer": [
    {"data": {"values": [{"re": 0.01, "im": 0}]}, "mark": {"type": "point", "opacity": 0},
     "encoding": {
      "x": {"field": "re", "type": "quantitative", "scale": {"type":"linear","domain":[-0.00107,0.0414],"nice":false,"zero":false}, "axis": {"orient": "bottom", "values": [0,0.01,0.02,0.03], "tickSize": -6, "labelPadding": 14, "labelFontSize": 17, "labelExpr": "datum.value == 0 ? '0' : format(datum.value, '.2f')", "title": "Re(-λᵢ) = 1 / Relaxation time", "titleX": 304, "titlePadding": 6}},
      "y": {"field": "im", "type": "quantitative", "scale": {"type":"linear","domain":[-0.01,0.01],"nice":false}, "axis": {"orient": "left", "values": [-0.01,-0.005,0,0.005,0.01], "tickSize": -6, "labelPadding": 17, "labelFontSize": 17, "labelExpr": "datum.value == 0 ? '0' : (datum.value > 0.009 ? '0.01' : (datum.value < -0.009 ? '-0.01' : ''))", "title": ["Im(-λᵢ)= Oscillation", "frequency × 2π"], "titleLineHeight": 23, "titlePadding": -21}}
     }},
    {"data": {"values": [{"re": 0.01, "im": 0}]}, "mark": {"type": "point", "opacity": 0},
     "encoding": {
      "x": {"field": "re", "type": "quantitative", "scale": {"type":"linear","domain":[-0.00107,0.0414],"nice":false,"zero":false}, "axis": {"orient": "top", "values": [0.01,0.02,0.03], "labels": false, "tickSize": -6, "title": null}},
      "y": {"field": "im", "type": "quantitative", "scale": {"type":"linear","domain":[-0.01,0.01],"nice":false}, "axis": null}
     }},
    {"data": {"name": "blines"},
     "mark": {"type": "line", "color": "#9a9a9a", "strokeWidth": 1},
     "encoding": {
      "x": {"field": "re", "type": "quantitative", "scale": {"type":"linear","domain":[-0.00107,0.0414],"nice":false,"zero":false}, "axis": null},
      "y": {"field": "im", "type": "quantitative", "scale": {"type":"linear","domain":[-0.01,0.01],"nice":false}, "axis": null},
      "detail": {"field": "g"}
     }},
    {"data": {"name": "b"}, "transform": [{"filter": "datum.re < 0.041 && datum.c == 'red'"}],
     "mark": {"type": "point", "shape": "M-1,0H1M0,-1V1", "filled": false, "size": 170, "strokeWidth": 1.4, "opacity": 0.8},
     "encoding": {
      "x": {"field": "re", "type": "quantitative", "scale": {"type":"linear","domain":[-0.00107,0.0414],"nice":false,"zero":false}, "axis": null},
      "y": {"field": "im", "type": "quantitative", "scale": {"type":"linear","domain":[-0.01,0.01],"nice":false}, "axis": null},
      "color": {"field": "c", "type": "nominal", "legend": null, "scale": {"domain": ["red","lblue","orange","yg","purple","txt","green","dblue","ptxt","bblue","borange","bgreen","bpurple"], "range": ["#e82530","#8ec5ea","#f8b718","#c5d35a","#8466b0","#1a1a1a","#2eaa48","#3a50a0","#5563b5","#7fb0e0","#f0a400","#a8c040","#6f4fb0"]}}
     }},
    {"data": {"name": "b"}, "transform": [{"filter": "datum.re < 0.041 && datum.c != 'red'"}],
     "mark": {"type": "point", "shape": "M-1,0H1M0,-1V1", "filled": false, "size": 230, "strokeWidth": 2.2, "opacity": 0.9},
     "encoding": {
      "x": {"field": "re", "type": "quantitative", "scale": {"type":"linear","domain":[-0.00107,0.0414],"nice":false,"zero":false}, "axis": null},
      "y": {"field": "im", "type": "quantitative", "scale": {"type":"linear","domain":[-0.01,0.01],"nice":false}, "axis": null},
      "color": {"field": "c", "type": "nominal", "legend": null, "scale": {"domain": ["red","lblue","orange","yg","purple","txt","green","dblue","ptxt","bblue","borange","bgreen","bpurple"], "range": ["#e82530","#8ec5ea","#f8b718","#c5d35a","#8466b0","#1a1a1a","#2eaa48","#3a50a0","#5563b5","#7fb0e0","#f0a400","#a8c040","#6f4fb0"]}}
     }},
    {"data": {"values": [{"x1": 0.00458, "x2": 0.0027, "im": 0.00258}]},
     "mark": {"type": "rule", "color": "#aaaaaa", "strokeWidth": 2},
     "encoding": {
      "x": {"field": "x1", "type": "quantitative", "scale": {"type":"linear","domain":[-0.00107,0.0414],"nice":false,"zero":false}, "axis": null},
      "x2": {"field": "x2"},
      "y": {"field": "im", "type": "quantitative", "scale": {"type":"linear","domain":[-0.01,0.01],"nice":false}, "axis": null}
     }},
    {"data": {"values": [{"re": 0.00239, "im": 0.00258}]},
     "mark": {"type": "point", "shape": "triangle-left", "filled": true, "size": 70, "color": "#aaaaaa", "opacity": 1},
     "encoding": {
      "x": {"field": "re", "type": "quantitative", "scale": {"type":"linear","domain":[-0.00107,0.0414],"nice":false,"zero":false}, "axis": null},
      "y": {"field": "im", "type": "quantitative", "scale": {"type":"linear","domain":[-0.01,0.01],"nice":false}, "axis": null}
     }},
    {"data": {"values": [{"t": "40 min", "re": 0.00487, "im": 0.00258}]},
     "mark": {"type": "text", "align": "left", "baseline": "middle", "fontSize": 16.5, "color": "#aaaaaa"},
     "encoding": {
      "x": {"field": "re", "type": "quantitative", "scale": {"type":"linear","domain":[-0.00107,0.0414],"nice":false,"zero":false}, "axis": null},
      "y": {"field": "im", "type": "quantitative", "scale": {"type":"linear","domain":[-0.01,0.01],"nice":false}, "axis": null},
      "text": {"field": "t"}
     }}
   ]
  },
  {
   "width": 200, "height": 246,
   "resolve": {"axis": {"x": "independent", "y": "independent"}},
   "layer": [
    {"data": {"values": [{"re": 0.1, "im": 0}]}, "mark": {"type": "point", "opacity": 0},
     "encoding": {
      "x": {"field": "re", "type": "quantitative", "scale": {"type":"log","domain":[0.0372,0.2],"nice":false}, "axis": {"orient": "bottom", "values": [0.05,0.1,0.2], "tickSize": -6, "labelPadding": 14, "labelFontSize": 17, "labelExpr": "format(datum.value, '~g')", "title": null}},
      "y": {"field": "im", "type": "quantitative", "scale": {"type":"linear","domain":[-0.01,0.01],"nice":false}, "axis": {"orient": "right", "values": [-0.005,0,0.005], "labels": false, "tickSize": -6, "title": null}}
     }},
    {"data": {"values": [{"re": 0.1, "im": 0}]}, "mark": {"type": "point", "opacity": 0},
     "encoding": {
      "x": {"field": "re", "type": "quantitative", "scale": {"type":"log","domain":[0.0372,0.2],"nice":false}, "axis": {"orient": "bottom", "values": [0.04,0.06,0.07,0.08,0.09,0.15], "labels": false, "domain": false, "tickSize": -3, "title": null}},
      "y": {"field": "im", "type": "quantitative", "scale": {"type":"linear","domain":[-0.01,0.01],"nice":false}, "axis": null}
     }},
    {"data": {"values": [{"re": 0.1, "im": 0}]}, "mark": {"type": "point", "opacity": 0},
     "encoding": {
      "x": {"field": "re", "type": "quantitative", "scale": {"type":"log","domain":[0.0372,0.2],"nice":false}, "axis": {"orient": "top", "values": [0.05,0.1], "labels": false, "tickSize": -6, "title": null}},
      "y": {"field": "im", "type": "quantitative", "scale": {"type":"linear","domain":[-0.01,0.01],"nice":false}, "axis": null}
     }},
    {"data": {"values": [{"re": 0.1, "im": 0}]}, "mark": {"type": "point", "opacity": 0},
     "encoding": {
      "x": {"field": "re", "type": "quantitative", "scale": {"type":"log","domain":[0.0372,0.2],"nice":false}, "axis": {"orient": "top", "values": [0.04,0.06,0.07,0.08,0.09], "labels": false, "domain": false, "tickSize": -3, "title": null}},
      "y": {"field": "im", "type": "quantitative", "scale": {"type":"linear","domain":[-0.01,0.01],"nice":false}, "axis": null}
     }},
    {"data": {"name": "b"}, "transform": [{"filter": "datum.re >= 0.041 && datum.c == 'red'"}],
     "mark": {"type": "point", "shape": "M-1,0H1M0,-1V1", "filled": false, "size": 170, "strokeWidth": 1.4, "opacity": 0.8},
     "encoding": {
      "x": {"field": "re", "type": "quantitative", "scale": {"type":"log","domain":[0.0372,0.2],"nice":false}, "axis": null},
      "y": {"field": "im", "type": "quantitative", "scale": {"type":"linear","domain":[-0.01,0.01],"nice":false}, "axis": null},
      "color": {"field": "c", "type": "nominal", "legend": null, "scale": {"domain": ["red","lblue","orange","yg","purple","txt","green","dblue","ptxt","bblue","borange","bgreen","bpurple"], "range": ["#e82530","#8ec5ea","#f8b718","#c5d35a","#8466b0","#1a1a1a","#2eaa48","#3a50a0","#5563b5","#7fb0e0","#f0a400","#a8c040","#6f4fb0"]}}
     }},
    {"data": {"name": "b"}, "transform": [{"filter": "datum.re >= 0.041 && datum.c != 'red'"}],
     "mark": {"type": "point", "shape": "M-1,0H1M0,-1V1", "filled": false, "size": 190, "strokeWidth": 2, "opacity": 0.9},
     "encoding": {
      "x": {"field": "re", "type": "quantitative", "scale": {"type":"log","domain":[0.0372,0.2],"nice":false}, "axis": null},
      "y": {"field": "im", "type": "quantitative", "scale": {"type":"linear","domain":[-0.01,0.01],"nice":false}, "axis": null},
      "color": {"field": "c", "type": "nominal", "legend": null, "scale": {"domain": ["red","lblue","orange","yg","purple","txt","green","dblue","ptxt","bblue","borange","bgreen","bpurple"], "range": ["#e82530","#8ec5ea","#f8b718","#c5d35a","#8466b0","#1a1a1a","#2eaa48","#3a50a0","#5563b5","#7fb0e0","#f0a400","#a8c040","#6f4fb0"]}}
     }},
    {"data": {"values": [{"re": 0.1, "y1": 0.0034, "y2": 0.0019}]},
     "mark": {"type": "rule", "color": "#aaaaaa", "strokeWidth": 2},
     "encoding": {
      "x": {"field": "re", "type": "quantitative", "scale": {"type":"log","domain":[0.0372,0.2],"nice":false}, "axis": null},
      "y": {"field": "y1", "type": "quantitative", "scale": {"type":"linear","domain":[-0.01,0.01],"nice":false}, "axis": null},
      "y2": {"field": "y2"}
     }},
    {"data": {"values": [{"re": 0.1, "im": 0.00165}]},
     "mark": {"type": "point", "shape": "triangle-down", "filled": true, "size": 70, "color": "#aaaaaa", "opacity": 1},
     "encoding": {
      "x": {"field": "re", "type": "quantitative", "scale": {"type":"log","domain":[0.0372,0.2],"nice":false}, "axis": null},
      "y": {"field": "im", "type": "quantitative", "scale": {"type":"linear","domain":[-0.01,0.01],"nice":false}, "axis": null}
     }},
    {"data": {"values": [{"t": "10 s", "re": 0.0936, "im": 0.00323}]},
     "mark": {"type": "text", "align": "right", "baseline": "middle", "fontSize": 16.5, "color": "#aaaaaa"},
     "encoding": {
      "x": {"field": "re", "type": "quantitative", "scale": {"type":"log","domain":[0.0372,0.2],"nice":false}, "axis": null},
      "y": {"field": "im", "type": "quantitative", "scale": {"type":"linear","domain":[-0.01,0.01],"nice":false}, "axis": null},
      "text": {"field": "t"}
     }},
    {"data": {"values": [{"t": "B", "re": 0.1742, "im": 0.008}]},
     "mark": {"type": "text", "align": "right", "baseline": "middle", "fontSize": 23, "fontWeight": "bold", "color": "#111"},
     "encoding": {
      "x": {"field": "re", "type": "quantitative", "scale": {"type":"log","domain":[0.0372,0.2],"nice":false}, "axis": null},
      "y": {"field": "im", "type": "quantitative", "scale": {"type":"linear","domain":[-0.01,0.01],"nice":false}, "axis": null},
      "text": {"field": "t"}
     }},
    {"data": {"values": [{"re": 0.0372, "im": 0.01}, {"re": 0.0372, "im": -0.01}]},
     "mark": {"type": "point", "shape": "M-0.2,-0.15L0.2,-0.15L0.2,0.15L-0.2,0.15Z", "filled": true, "size": 625, "color": "white", "opacity": 1},
     "encoding": {
      "x": {"field": "re", "type": "quantitative", "scale": {"type":"log","domain":[0.0372,0.2],"nice":false}, "axis": null},
      "y": {"field": "im", "type": "quantitative", "scale": {"type":"linear","domain":[-0.01,0.01],"nice":false}, "axis": null}
     }},
    {"data": {"values": [{"re": 0.0372, "im": 0.01}, {"re": 0.0372, "im": -0.01}]},
     "mark": {"type": "point", "shape": "M-0.1,-1C-0.5,-0.5,0.1,0.5,-0.3,1M0.3,-1C-0.1,-0.5,0.5,0.5,0.1,1", "filled": false, "size": 625, "stroke": "#222", "strokeWidth": 1.2, "opacity": 1},
     "encoding": {
      "x": {"field": "re", "type": "quantitative", "scale": {"type":"log","domain":[0.0372,0.2],"nice":false}, "axis": null},
      "y": {"field": "im", "type": "quantitative", "scale": {"type":"linear","domain":[-0.01,0.01],"nice":false}, "axis": null}
     }}
   ]
  }
 ], "spacing": 0, "bounds": "flush"}
],
"spacing": 32
}
